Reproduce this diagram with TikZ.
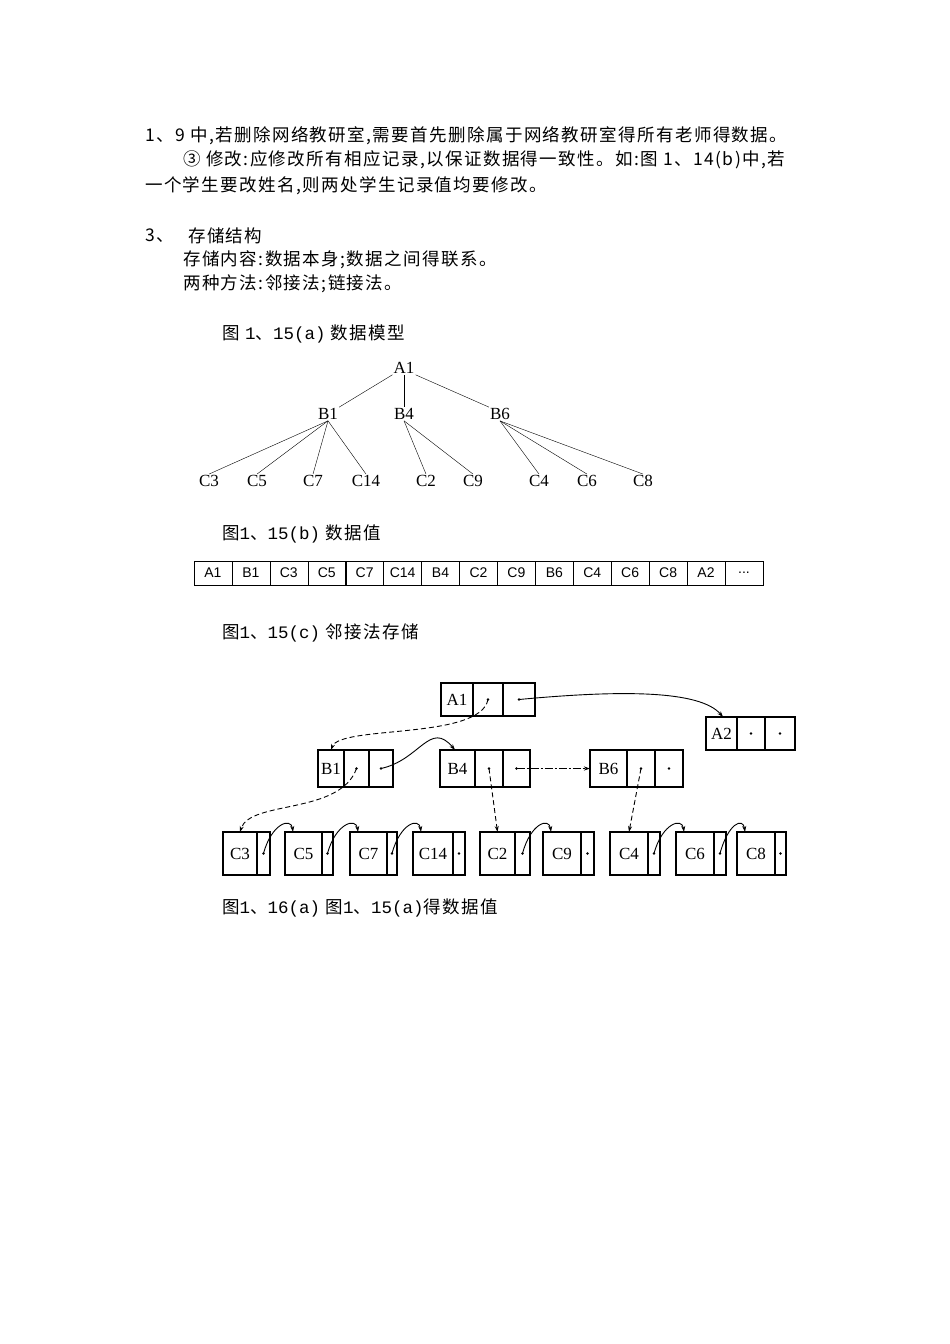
\documentclass[tikz,border=0pt]{standalone}
\usepackage{fontspec}
\setmainfont[LetterSpace=8]{Noto Sans CJK SC}
\newfontfamily\serifl{Liberation Serif}
\newfontfamily\sansl{Liberation Sans}
\newfontfamily\monol{Liberation Mono}
\usetikzlibrary{calc,arrows.meta}
\newcommand{\recthree}[8]{%
  \draw[line width=1.3pt] (#2,#6) rectangle (#5,#7) (#3,#6)--(#3,#7) (#4,#6)--(#4,#7);
  \node[lbl] (#1) at ($(#2,#6)!0.5!(#3,#7)$) {#8};
  \coordinate (p#1) at ($(#3,#6)!0.5!(#4,#7)$);
  \coordinate (q#1) at ($(#4,#6)!0.5!(#5,#7)$);
  \fill (p#1) circle (1.3pt) (q#1) circle (1.3pt);
  \coordinate (t#1) at ($(#2,#6)!0.5!(#3,#6)$);
  \coordinate (l#1) at ($(#2,#6)!0.5!(#2,#7)$);}
\newcommand{\rectwo}[7]{%
  \draw[line width=1.3pt] (#2,#5) rectangle (#4,#6) (#3,#5)--(#3,#6);
  \node[lbl] (#1) at ($(#2,#5)!0.5!(#3,#6)$) {#7};
  \coordinate (p#1) at ($(#3,#5)!0.5!(#4,#6)$);
  \fill (p#1) circle (1.3pt);
  \coordinate (t#1) at ($(#2,#5)!0.5!(#3,#5)$);
  \coordinate (s#1) at ($(#2,#5)+(8,0)$);}
\newcommand{\mn}[1]{{\monol #1}}
\begin{document}
\begin{tikzpicture}[x=1pt,y=-1pt,
  txt/.style={anchor=west,inner sep=0pt,font=\fontsize{17.5}{17.5}\selectfont},
  tn/.style={inner sep=1pt,font=\serifl\fontsize{17}{17}\selectfont},
  lbl/.style={inner sep=0pt,font=\serifl\fontsize{17}{17}\selectfont},
  cell/.style={draw,minimum width=38pt,minimum height=24pt,inner sep=0pt,font=\sansl\fontsize{14}{14}\selectfont},
  ar/.style={-{Stealth[length=6pt,width=4pt]},line width=0.9pt},
  ds/.style={ar,dashed,dash pattern=on 5pt off 3pt}]
\useasboundingbox (0,0) rectangle (950,1344);
\fill[white] (0,0) rectangle (950,1344);
\node[txt] (t1) at (145,136) {1、9 中,若删除网络教研室,需要首先删除属于网络教研室得所有老师得数据。};
\node[txt] (t2) at (183,160) {③ 修改:应修改所有相应记录,以保证数据得一致性。如:图 1、14(b)中,若};
\node[txt] (t3) at (145,186) {一个学生要改姓名,则两处学生记录值均要修改。};
\node[txt] (t4) at (145,236) {3、};
\node[txt] (t5) at (188,236) {存储结构};
\node[txt] (t6) at (183,260) {存储内容:数据本身;数据之间得联系。};
\node[txt] (t7) at (183,284) {两种方法:邻接法;链接法。};
\node[txt] (f1) at (222,334) {图 \mn{1}、\mn{15(a)} 数据模型};
% tree
\node[tn] (A1) at (404,368) {A1};
\node[tn] (B1) at (328,414) {B1};
\node[tn] (B4) at (404,414) {B4};
\node[tn] (B6) at (500,414) {B6};
\foreach \n/\x in {C3/209,C5/257,C7/313,C14/366,C2/426,C9/473,C4/539,C6/587,C8/643}
  \node[tn] (T\n) at (\x,481) {\n};
\draw (A1.south west) -- (B1.north east);
\draw (A1.south) -- (B4.north);
\draw (A1.south east) -- (B6.north west);
\foreach \c in {C3,C5,C7,C14} \draw (B1.south) -- (T\c.north);
\foreach \c in {C2,C9} \draw (B4.south) -- (T\c.north);
\foreach \c in {C4,C6,C8} \draw (B6.south) -- (T\c.north);
\node[txt] (f2) at (222,534) {图\mn{1}、\mn{15(b)} 数据值};
% table
\foreach \t [count=\i] in {A1,B1,C3,C5,C7,C14,B4,C2,C9,B6,C4,C6,C8,A2,{.\kern0pt.\kern0pt.}}
  \node[cell] (v\i) at (194+37.93*\i-18.97,573) {\t};
\node[txt] (f3) at (222,633) {图\mn{1}、\mn{15(c)} 邻接法存储};
% storage
\recthree{A1}{441}{473}{503}{535}{683}{716}{A1}
\recthree{A2}{706}{737}{765}{795}{717}{750}{A2}
\recthree{B1}{318}{344}{369}{393}{750}{787}{B1}
\recthree{B4}{440}{475}{503}{530}{750}{787}{B4}
\recthree{B6}{590}{627}{655}{683}{750}{787}{B6}
\rectwo{C3}{223}{257}{270}{832}{875}{C3}
\rectwo{C5}{285}{322}{333}{832}{875}{C5}
\rectwo{C7}{350}{387}{397}{832}{875}{C7}
\rectwo{C14}{413}{453}{465}{832}{875}{C14}
\rectwo{C2}{480}{515}{530}{832}{875}{C2}
\rectwo{C9}{543}{581}{594}{832}{875}{C9}
\rectwo{C4}{610}{648}{660}{832}{875}{C4}
\rectwo{C6}{676}{714}{726}{832}{875}{C6}
\rectwo{C8}{737}{775}{786}{832}{875}{C8}
\draw[ds] (pA1) .. controls (480,740) and (340,725) .. (tB1);
\draw[ar] (qA1) .. controls (620,690) and (700,690) .. (723,717);
\draw[ar] (qB1) .. controls (420,760) and (430,720) .. (455,750);
\draw[ds] (pB1) .. controls (340,815) and (250,800) .. (tC3);
\draw[ds] (pB4) -- (tC2);
\draw[ar,dash pattern=on 8pt off 2pt on 2pt off 2pt] (qB4) -- (lB6);
\draw[ds] (pB6) -- (tC4);
\foreach \a/\b in {C3/C5,C5/C7,C7/C14,C2/C9,C4/C6,C6/C8}
  \draw[ar] (p\a) .. controls +(8,-30) and +(-2,-15) .. (s\b);
\node[txt] (f4) at (222,908) {图\mn{1}、\mn{16(a)} 图\mn{1}、\mn{15(a)}得数据值};
\end{tikzpicture}
\end{document}
